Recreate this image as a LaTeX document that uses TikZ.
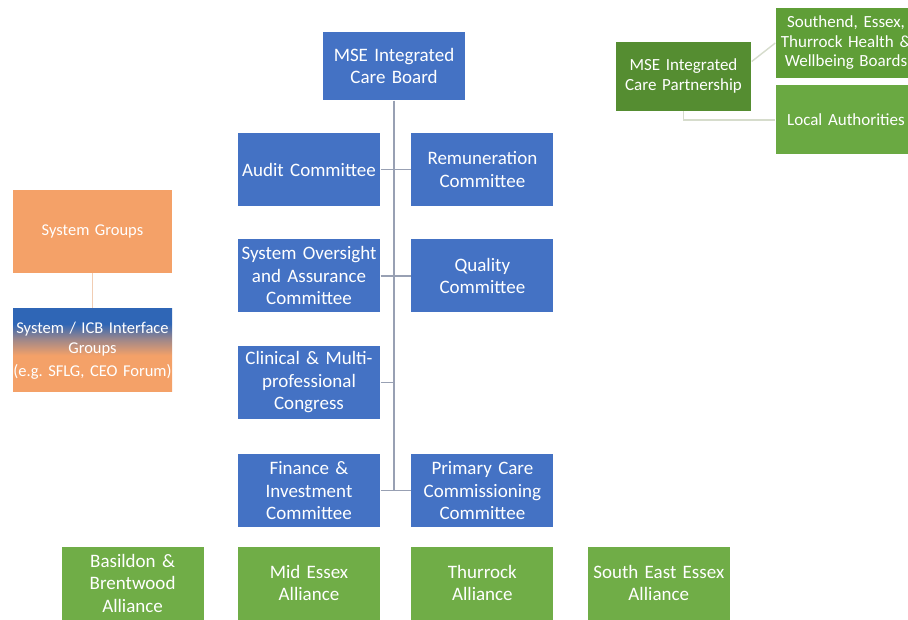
\documentclass[tikz,border=0pt]{standalone}
\usepackage{fontspec}
\setmainfont{Carlito}
\usepackage{tikz}
\usetikzlibrary{positioning}

\definecolor{icbblue}{HTML}{4472C4}
\definecolor{allgreen}{HTML}{70AD47}
\definecolor{icpgreen}{HTML}{558D31}
\definecolor{hwbgreen}{HTML}{5F9E37}
\definecolor{lagreen}{HTML}{6AA942}
\definecolor{sysorange}{HTML}{F4A168}
\definecolor{ifaceblue}{HTML}{2F66B6}
\definecolor{linegray}{HTML}{98A0B3}
\definecolor{grnline}{HTML}{D6DCCC}
\definecolor{orgline}{HTML}{F1CDB3}

\pgfdeclareverticalshading{ifaceshade}{100bp}{color(0bp)=(sysorange); color(25bp)=(sysorange); color(47bp)=(sysorange); color(57bp)=(sysorange!55!ifaceblue); color(66bp)=(ifaceblue); color(75bp)=(ifaceblue); color(100bp)=(ifaceblue)}

\begin{document}
\frenchspacing
\begin{tikzpicture}[x=1pt, y=-1pt, line width=1.4pt,
    box/.style={text=white, align=center, inner sep=0pt, text width=142pt, minimum width=142pt, minimum height=73pt, font=\fontsize{19}{22.5}\selectfont},
    blubox/.style={box, fill=icbblue},
    allbox/.style={box, fill=allgreen},
    sidebox/.style={box, text width=140pt, minimum width=140pt, minimum height=69pt, font=\fontsize{17}{19.5}\selectfont},
    sysbox/.style={box, text width=159pt, minimum width=159pt, minimum height=83pt, font=\fontsize{16.5}{20}\selectfont},
    link/.style={draw=linegray}]
    \clip (0,0) rectangle (908,619);
    \fill[white] (0,0) rectangle (908,619);

    \node[blubox, minimum height=68pt] (icb) at (394,66) {MSE Integrated\\Care Board};
    \node[blubox] (audit) at (309,169.5) {Audit Committee};
    \node[blubox, right=30pt of audit] (remun) {Remuneration\\Committee};
    \node[blubox, below=32pt of audit] (oversight) {System Oversight\\and Assurance\\Committee};
    \node[blubox, right=30pt of oversight] (quality) {Quality\\Committee};
    \node[blubox, below=32pt of oversight] (congress) {Clinical \& Multi-\\professional\\Congress};
    \node[blubox, below=34pt of congress] (finance) {Finance \&\\Investment\\Committee};
    \node[blubox, right=30pt of finance] (primary) {Primary Care\\Commissioning\\Committee};

    \node[allbox, below=18pt of finance] (midessex) {Mid Essex\\Alliance};
    \node[allbox, left=33pt of midessex] (basildon) {Basildon \&\\Brentwood\\Alliance};
    \node[allbox, right=30pt of midessex] (thurrock) {Thurrock\\Alliance};
    \node[allbox, right=33pt of thurrock] (southeast) {South East Essex\\Alliance};

    \node[sysbox, fill=sysorange] (sysgroups) at (92.5,231) {System Groups};
    \node[sysbox, shading=ifaceshade, below=35pt of sysgroups] (iface) {System / ICB Interface\\Groups\\[3pt]\mbox{(e.g. SFLG, CEO Forum)}};

    \node[sidebox, fill=icpgreen, text width=135pt, minimum width=135pt] (icp) at (683.5,76) {MSE Integrated\\Care Partnership};
    \node[sidebox, fill=hwbgreen, minimum height=70pt] (hwb) at (846,43) {Southend, Essex,\\Thurrock Health \&\\Wellbeing Boards};
    \node[sidebox, fill=lagreen, below=6pt of hwb] (locauth) {Local Authorities};

    \draw[link] (icb.south) -- (icb.south |- finance.east);
    \draw[link] (audit) -- (remun);
    \draw[link] (oversight) -- (quality);
    \draw[link] (congress.east) -- (congress.east -| icb.south);
    \draw[link] (finance) -- (primary);

    \draw[orgline] (sysgroups) -- (iface);
    \draw[grnline] (icp.12) -- (hwb.west);
    \draw[grnline] (icp.south) |- (locauth.west);
\end{tikzpicture}
\end{document}
